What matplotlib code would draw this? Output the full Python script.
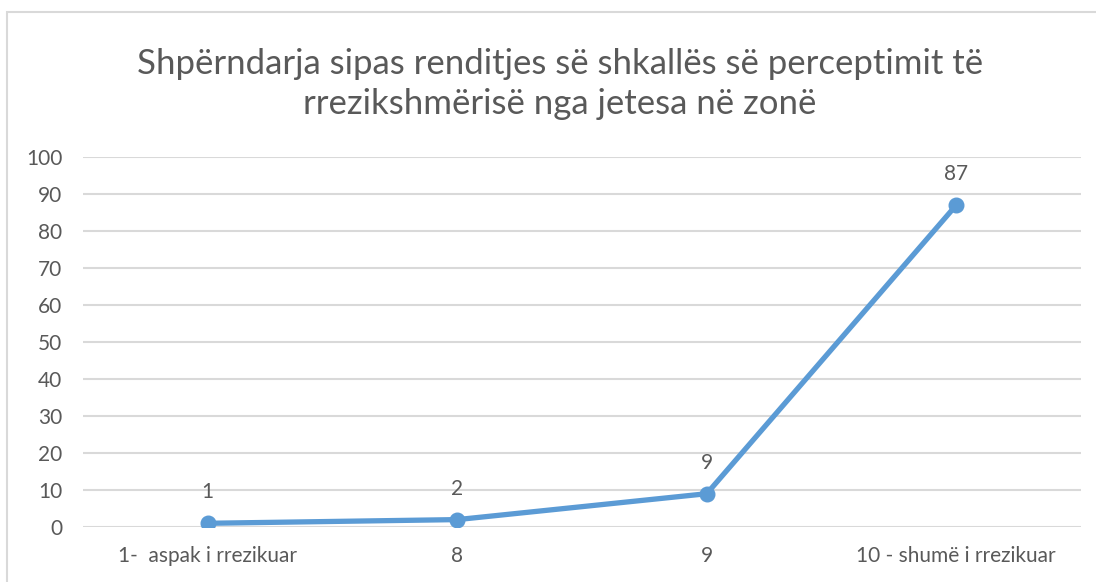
import matplotlib
matplotlib.use("Agg")
import matplotlib.pyplot as plt
from matplotlib.patches import Rectangle

# perceived risk rating vs. number of respondents
categories = ["1-  aspak i rrezikuar", "8", "9", "10 - shumë i rrezikuar"]
counts = [1, 2, 9, 87]
y_ticks = list(range(0, 101, 10))
title = ("Shpërndarja sipas renditjes së shkallës së perceptimit të\n"
         "rrezikshmërisë nga jetesa në zonë")

LINE = "#5b9bd5"
TEXT = "#595959"
GRID = "#d9d9d9"

plt.rcParams["font.family"] = ["Lato", "DejaVu Sans"]

W, H = 1096, 582
fig = plt.figure(figsize=(W / 100, H / 100), dpi=100)
ax = fig.add_axes([83 / W, (H - 527) / H, (1081 - 83) / W, (527 - 157) / H])

x = list(range(len(categories)))
ax.plot(x, counts, "-o", color=LINE, lw=3.8, ms=10.5, solid_capstyle="round", zorder=3)
for xi, v in zip(x, counts):
    ax.annotate(str(v), (xi, v), xytext=(0, 15), textcoords="offset points",
                ha="center", va="bottom", fontsize=15, color=TEXT)

ax.set_xlim(-0.5, len(categories) - 0.5)
ax.set_ylim(0, 100)
ax.set_yticks(y_ticks)
ax.set_xticks(x)
ax.set_xticklabels(categories)
ax.tick_params(axis="both", length=0, labelsize=15, labelcolor=TEXT)
ax.tick_params(axis="x", pad=14)
ax.tick_params(axis="y", pad=15)
ax.grid(axis="y", color=GRID, lw=1.5, zorder=0)
for s in ax.spines.values():
    s.set_visible(False)

fig.text(0.511, (H - 84) / H, title, ha="center", va="center", fontsize=25,
         color=TEXT, linespacing=1.3)

# chart-area frame
fig.patches.append(Rectangle((7 / W, -0.05), 1.2, (H - 12) / H + 0.05,
                             transform=fig.transFigure, fill=False,
                             edgecolor=GRID, lw=1.5))

fig.savefig("out.png", dpi=100)
